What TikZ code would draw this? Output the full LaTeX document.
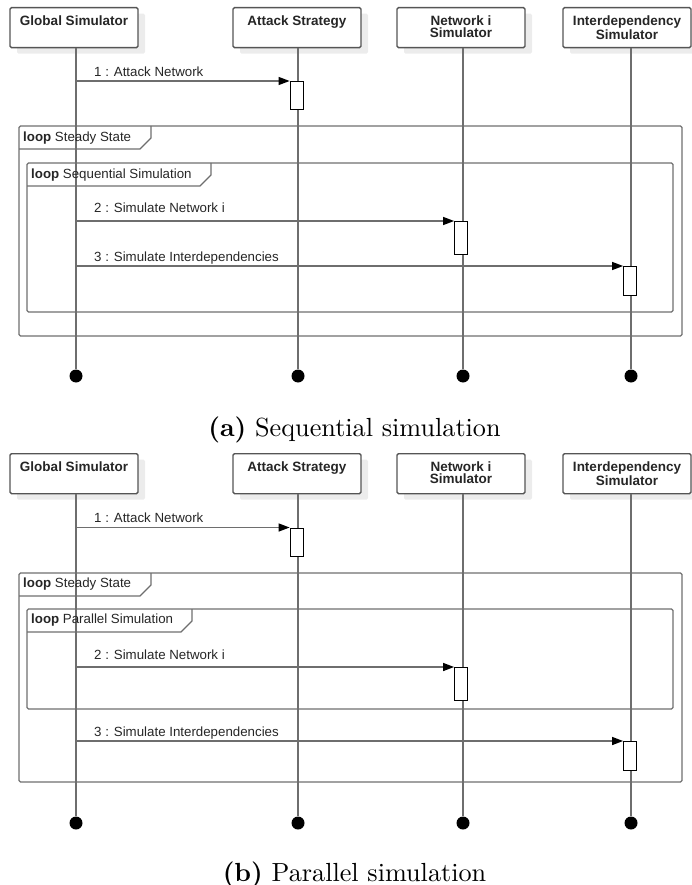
\documentclass[tikz,border=0pt]{standalone}
\usepackage{fontspec}
\usepackage{graphicx}
\newfontfamily\diagfont{Liberation Sans}
\usetikzlibrary{arrows.meta,shadows,calc}
\definecolor{lgray}{RGB}{110,110,110}
\definecolor{bgray}{RGB}{85,85,85}
\definecolor{shadowgray}{RGB}{236,236,236}
\tikzset{
  headbox/.style={draw=bgray, line width=1.3pt, rounded corners=1.5pt, fill=white,
    minimum width=128pt, minimum height=40pt, inner sep=0pt, anchor=north,
    drop shadow={shadow xshift=7pt, shadow yshift=-6pt, fill=shadowgray, opacity=1}},
  headtext/.style={font=\diagfont\bfseries\fontsize{13.5}{12}\selectfont, align=center, anchor=north, inner sep=0pt, text=black!85},
  lifeline/.style={draw=lgray, line width=1.3pt},
  endcircle/.style={circle, fill=black, minimum size=13pt, inner sep=0pt},
  actbox/.style={draw=black, line width=0.8pt, fill=white, minimum width=13pt, inner sep=0pt, anchor=north},
  msgline/.style={draw=lgray, line width=1.3pt, -{Triangle[length=11pt,width=8pt,color=black]}},
  msglabel/.style={font=\diagfont\fontsize{13.3}{15}\selectfont, anchor=base west, inner sep=0pt, text=black!85},
  framebox/.style={draw=lgray, line width=1.3pt, rounded corners=1.5pt},
  tabline/.style={draw=lgray, line width=1.3pt},
  tabtext/.style={font=\diagfont\fontsize{13.3}{15}\selectfont, anchor=west, inner sep=0pt, text=black!85},
  captext/.style={font=\fontsize{10}{12}\selectfont, anchor=base, inner sep=0pt},
}
\begin{document}
\begin{tikzpicture}[x=1pt,y=-1pt]
\useasboundingbox (0,0) rectangle (692,885);

% ================= Panel (a) =================
\node[headbox] (aG) at (74,7) {};
\node[headbox] (aS) at (297,7) {};
\node[headbox] (aN) at (461,7) {};
\node[headbox] (aI) at (627,7) {};
\node[headtext] (aGt) at ($(aG.north)+(0,9)$) {Global Simulator};
\node[headtext] (aSt) at ($(aS.north)+(0,9)$) {Attack Strategy};
\node[headtext] (aNt) at ($(aN.north)+(0,9)$) {Network i\\Simulator};
\node[headtext] (aIt) at ($(aI.north)+(0,9)$) {Interdependency\\Simulator};

\node[endcircle] (aGe) at (76,376) {};
\node[endcircle] (aSe) at (298,376) {};
\node[endcircle] (aNe) at (463,376) {};
\node[endcircle] (aIe) at (631,376) {};
\draw[lifeline] (aGe |- aG.south) -- (aGe);
\draw[lifeline] (aSe |- aS.south) -- (aSe);
\draw[lifeline] (aNe |- aN.south) -- (aNe);
\draw[lifeline] (aIe |- aI.south) -- (aIe);

\draw[framebox] (19,126) rectangle (682,336);
\draw[tabline] (19,149) -- (140,149) -- (151,138) -- (151,126);
\node[tabtext] (aT1) at (23,138) {\textbf{loop} Steady State};
\draw[framebox] (27,163) rectangle (673,312);
\draw[tabline] (27,186) -- (200,186) -- (211,175) -- (211,163);
\node[tabtext] (aT2) at (31,175) {\textbf{loop} Sequential Simulation};

\coordinate (aM1) at (76,81);
\coordinate (aM2) at (76,221);
\coordinate (aM3) at (76,266);
\node[actbox, minimum height=28pt] (aA1) at (296.5,81) {};
\node[actbox, minimum height=33pt] (aA2) at (461,221) {};
\node[actbox, minimum height=29pt] (aA3) at (630,266) {};
\draw[msgline] (aM1) -- (aA1.north west);
\draw[msgline] (aM2) -- (aA2.north west);
\draw[msgline] (aM3) -- (aA3.north west);
\node[msglabel] (aL1) at (94,77) {1 : Attack Network};
\node[msglabel] (aL2) at (94,212.5) {2 : Simulate Network i};
\node[msglabel] (aL3) at (94,261) {3 : Simulate Interdependencies};

\node[captext] (capA) at (354.5,436) {\scalebox{2.62}{\textbf{(a)} Sequential simulation}};

% ================= Panel (b) =================
\node[headbox] (bG) at (74,453) {};
\node[headbox] (bS) at (297,453) {};
\node[headbox] (bN) at (461,453) {};
\node[headbox] (bI) at (627,453) {};
\node[headtext] (bGt) at ($(bG.north)+(0,9)$) {Global Simulator};
\node[headtext] (bSt) at ($(bS.north)+(0,9)$) {Attack Strategy};
\node[headtext] (bNt) at ($(bN.north)+(0,9)$) {Network i\\Simulator};
\node[headtext] (bIt) at ($(bI.north)+(0,9)$) {Interdependency\\Simulator};

\node[endcircle] (bGe) at (76,823) {};
\node[endcircle] (bSe) at (298,823) {};
\node[endcircle] (bNe) at (463,823) {};
\node[endcircle] (bIe) at (631,823) {};
\draw[lifeline] (bGe |- bG.south) -- (bGe);
\draw[lifeline] (bSe |- bS.south) -- (bSe);
\draw[lifeline] (bNe |- bN.south) -- (bNe);
\draw[lifeline] (bIe |- bI.south) -- (bIe);

\draw[framebox] (19,573) rectangle (682,782);
\draw[tabline] (19,596) -- (140,596) -- (151,585) -- (151,573);
\node[tabtext] (bT1) at (23,584.5) {\textbf{loop} Steady State};
\draw[framebox] (27,609) rectangle (673,709);
\draw[tabline] (27,632) -- (181,632) -- (192,621) -- (192,609);
\node[tabtext] (bT2) at (31,620.5) {\textbf{loop} Parallel Simulation};

\coordinate (bM1) at (76,527.5);
\coordinate (bM2) at (76,667);
\coordinate (bM3) at (76,741);
\node[actbox, minimum height=28pt] (bA1) at (296.5,527.5) {};
\node[actbox, minimum height=33pt] (bA2) at (461,667) {};
\node[actbox, minimum height=29pt] (bA3) at (630,741) {};
\draw[msgline] (bM1) -- (bA1.north west);
\draw[msgline] (bM2) -- (bA2.north west);
\draw[msgline] (bM3) -- (bA3.north west);
\node[msglabel] (bL1) at (94,522.5) {1 : Attack Network};
\node[msglabel] (bL2) at (94,659.5) {2 : Simulate Network i};
\node[msglabel] (bL3) at (94,736) {3 : Simulate Interdependencies};

\node[captext] (capB) at (354.5,881) {\scalebox{2.62}{\textbf{(b)} Parallel simulation}};
\end{tikzpicture}
\end{document}
